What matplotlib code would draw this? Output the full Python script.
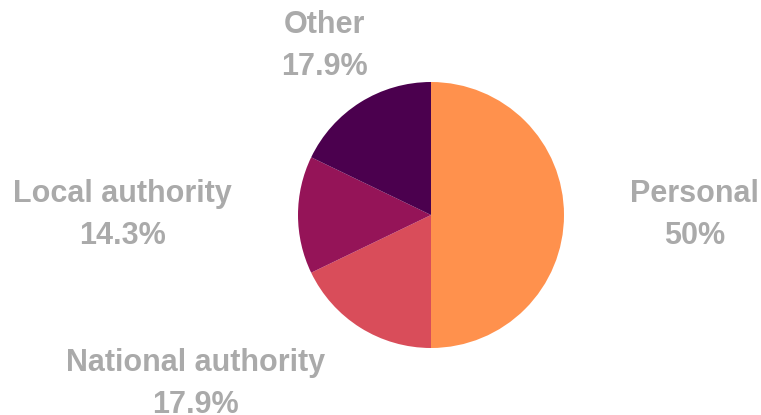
import matplotlib.pyplot as plt

# counts behind the percentages (out of 28)
categories = ["Personal", "National authority", "Local authority", "Other"]
counts = [14, 5, 4, 5]
colors = ["#FF914D", "#D94D5A", "#951458", "#4B004E"]


def main():
    fig = plt.figure(figsize=(7.61, 4.15), dpi=100)
    ax = fig.add_axes([0, 0, 1, 1])

    total = sum(counts)
    labels = ["%s\n%s%%" % (c, ("%.1f" % (100 * v / total)).rstrip("0").rstrip("."))
              for c, v in zip(categories, counts)]

    wedges, texts = ax.pie(counts, labels=labels, colors=colors,
                           startangle=90, counterclock=False,
                           labeldistance=1.5, radius=1,
                           textprops=dict(color="#AAAAAA", fontsize=22,
                                          fontweight="bold",
                                          family="Liberation Sans",
                                          linespacing=1.5))
    for t in texts:
        t.set_multialignment("center")
    # "Other" label sits centred above its slice
    texts[3].set_ha("center")

    # place the pie: centre at (431, 215) px, radius 133 px
    r = 133.0
    ax.set_xlim(-431 / r, (761 - 431) / r)
    ax.set_ylim(-(415 - 215) / r, 215 / r)
    ax.set_aspect("equal")
    ax.axis("off")

    fig.savefig("out.png", dpi=100)


if __name__ == '__main__':
    main()
